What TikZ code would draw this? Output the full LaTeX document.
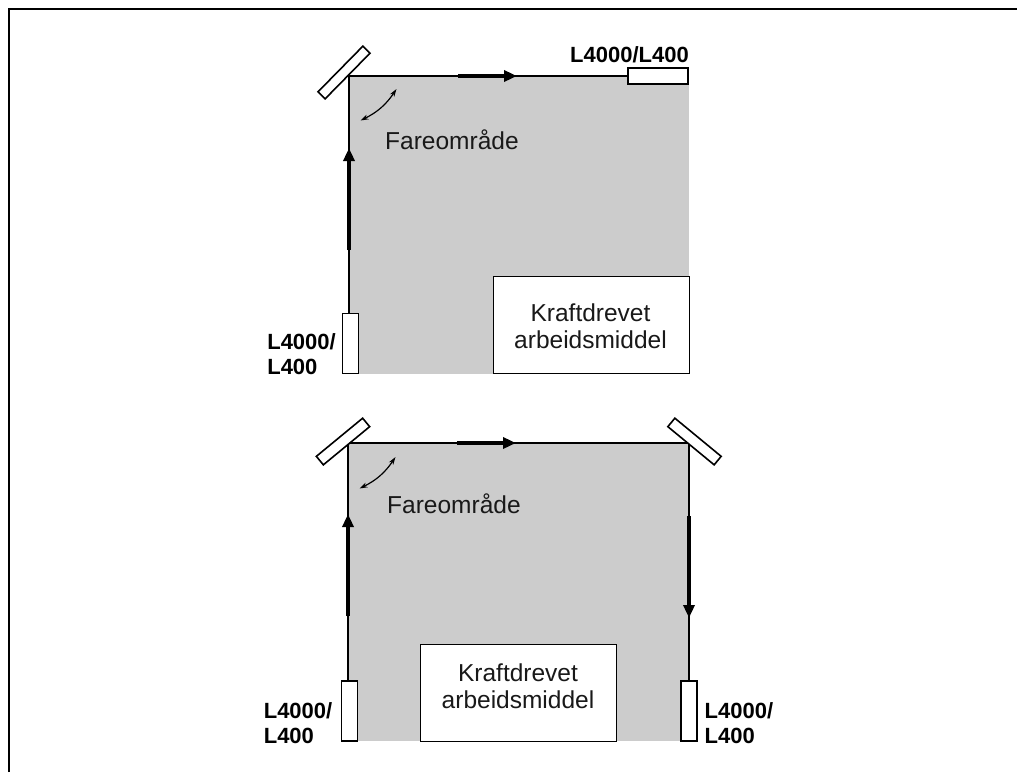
\documentclass[tikz,border=0pt]{standalone}
\usepackage{fontspec}
\setmainfont{Liberation Sans}
\usetikzlibrary{arrows.meta,positioning}
\definecolor{hazard}{gray}{0.8}
\tikzset{
  lbl/.style={font=\fontsize{24.5}{27}\selectfont,align=center,text=black!90,inner sep=0pt},
  sensor/.style={font=\fontsize{22}{25}\selectfont\bfseries,align=left,inner sep=0pt},
  sender/.style={rectangle,draw,line width=1.6pt,fill=white,inner sep=0pt},
  mirror/.style={rectangle,draw,line width=1.6pt,fill=white,inner sep=0pt,minimum width=64pt,minimum height=10pt},
  machine/.style={rectangle,draw,line width=1pt,fill=white,inner sep=0pt,minimum width=196pt,minimum height=97pt},
  beam/.style={line width=1.8pt},
  arr/.style={line width=4.5pt,-{Triangle[length=13pt,width=11pt]}},
  swing/.style={line width=1.2pt,{Stealth[length=8pt,width=5pt]}-{Stealth[length=8pt,width=5pt]}},
}
\begin{document}
\begin{tikzpicture}[x=1pt,y=-1pt]
  \useasboundingbox (0,0) rectangle (1017,772);
  \coordinate (f1) at (9,772); \coordinate (f2) at (9,9); \coordinate (f3) at (1017,9);
  \draw[line width=2.5pt] (f1) -- (f2) -- (f3);
  % upper layout
  \fill[hazard] (349,76) rectangle (689,374);
  \coordinate (c1) at (349,76);
  \node[sender,minimum width=60pt,minimum height=16.5pt] (s1) at (658,76) {};
  \node[sender,minimum width=16pt,minimum height=60pt] (s2) at (350.5,343.5) {};
  \draw[beam] (c1 |- s2.north) -- (c1) -- (s1);
  \node[mirror,rotate=45.5] (m1) at (344,72.5) {};
  \node[machine] (mach1) at (591,325) {};
  \node[lbl] (txt1) at (590.5,326.5) {Kraftdrevet\\arbeidsmiddel};
  \node[lbl,anchor=base west] (fare1) at (385,149) {Fareområde};
  \node[sensor,anchor=base east] (lab1) at (689,62) {L4000/L400};
  \node[sensor,anchor=east] (lab2) at (336,354.5) {L4000/\\L400};
  \coordinate (a1s) at (349,250); \coordinate (a1e) at (349,148);
  \coordinate (a2s) at (458,76); \coordinate (a2e) at (517,76);
  \draw[arr] (a1s) -- (a1e);
  \draw[arr] (a2s) -- (a2e);
  \coordinate (t1s) at (396.5,89); \coordinate (t1e) at (360.5,120.5);
  \draw[swing] (t1s) to[bend left=15] (t1e);
  % lower layout
  \fill[hazard] (348,443) rectangle (689,741);
  \coordinate (c2) at (348,443); \coordinate (c3) at (689,443);
  \node[sender,minimum width=16pt,minimum height=60pt] (s3) at (349.5,711) {};
  \node[sender,minimum width=16pt,minimum height=60pt] (s4) at (689,711) {};
  \draw[beam] (c2 |- s3.north) -- (c2) -- (c3) -- (s4);
  \node[mirror,rotate=39.5,minimum width=60pt,minimum height=11pt] (m2) at (343,441.5) {};
  \node[mirror,rotate=-39.5,minimum width=60pt,minimum height=11pt] (m3) at (694.5,441.5) {};
  \node[machine] (mach2) at (518,692.5) {};
  \node[lbl] (txt2) at (518,686) {Kraftdrevet\\arbeidsmiddel};
  \node[lbl,anchor=base west] (fare2) at (387,513) {Fareområde};
  \node[sensor,anchor=east] (lab3) at (332.5,723) {L4000/\\L400};
  \node[sensor,anchor=west] (lab4) at (704.5,723) {L4000/\\L400};
  \coordinate (a3s) at (348,616); \coordinate (a3e) at (348,514);
  \coordinate (a4s) at (457,443); \coordinate (a4e) at (516,443);
  \coordinate (a5s) at (689,516); \coordinate (a5e) at (689,618);
  \draw[arr] (a3s) -- (a3e);
  \draw[arr] (a4s) -- (a4e);
  \draw[arr] (a5s) -- (a5e);
  \coordinate (t2s) at (395.5,457); \coordinate (t2e) at (359.5,488.5);
  \draw[swing] (t2s) to[bend left=15] (t2e);
\end{tikzpicture}
\end{document}
